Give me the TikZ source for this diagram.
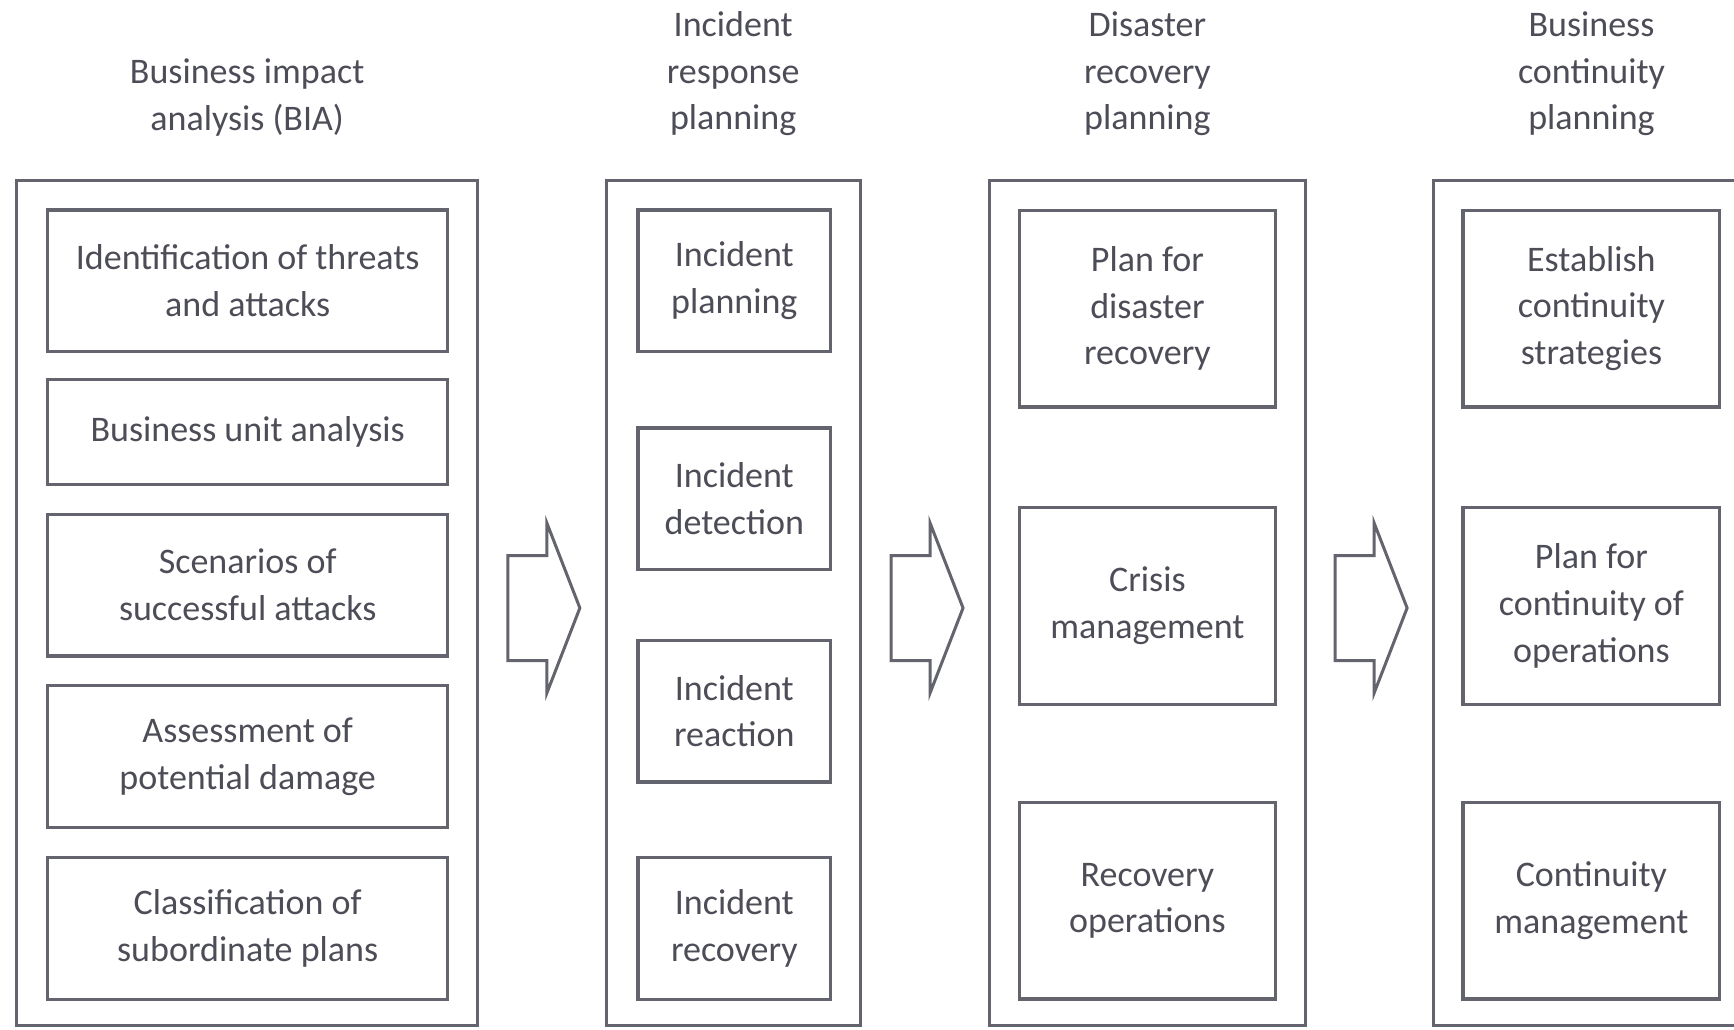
\documentclass[tikz,border=0pt]{standalone}
\usepackage{fontspec}
\setmainfont{Carlito}
\definecolor{frame}{HTML}{63646E}
\definecolor{ink}{HTML}{4C4D57}
\usetikzlibrary{positioning,calc}

\begin{document}
\begin{tikzpicture}[x=0.3pt,y=-0.3pt,every node/.style={font=\fontsize{10.8}{14}\selectfont,text=ink},
  phase/.style={draw=frame,line width=0.9pt,inner sep=0pt},
  task/.style={draw=frame,line width=1pt,inner sep=0pt,align=center},
  heading/.style={align=center,inner sep=0pt},
  blockarrow/.style={draw=frame,line width=0.9pt,line join=miter,fill=white}]
\useasboundingbox (0,0) rectangle (1734,1029);
% phase frames
\node[phase,minimum width=138.3pt,minimum height=253.7pt] (bia) at (247.2,603) {};
\node[phase,minimum width=76.3pt,minimum height=253.7pt] (irp) at (733.2,603) {};
\node[phase,minimum width=94.6pt,minimum height=253.7pt] (drp) at (1147.4,603) {};
\node[phase,minimum width=95pt,minimum height=253.7pt] (bcp) at (1591.5,603) {};
% headings
\node[heading,above=12.6pt of bia] (biaT) {Business impact\\analysis (BIA)};
\node[heading,above=12.6pt of irp] (irpT) {Incident\\response\\planning};
\node[heading,above=12.6pt of drp] (drpT) {Disaster\\recovery\\planning};
\node[heading,above=12.6pt of bcp] (bcpT) {Business\\continuity\\planning};
% BIA steps
\node[task,minimum width=120pt,minimum height=42.5pt] (bia1) at (247.7,280.9) {Identification of threats\\and attacks};
\node[task,minimum width=120pt,minimum height=31.5pt] (bia2) at (247.7,431.9) {Business unit analysis};
\node[task,minimum width=120pt,minimum height=42.5pt] (bia3) at (247.7,585) {Scenarios of\\successful attacks};
\node[task,minimum width=120pt,minimum height=42.5pt] (bia4) at (247.7,756.5) {Assessment of\\potential damage};
\node[task,minimum width=120pt,minimum height=42.5pt] (bia5) at (247.7,928.4) {Classification of\\subordinate plans};
% incident response steps
\node[task,minimum width=57.8pt,minimum height=42.5pt] (irp1) at (734.3,280.9) {Incident\\planning};
\node[task,minimum width=57.8pt,minimum height=42.5pt] (irp2) at (734.3,498.8) {Incident\\detection};
\node[task,minimum width=57.8pt,minimum height=42.5pt] (irp3) at (734.3,711.1) {Incident\\reaction};
\node[task,minimum width=57.8pt,minimum height=42.5pt] (irp4) at (734.3,928.4) {Incident\\recovery};
% disaster recovery steps
\node[task,minimum width=76.7pt,minimum height=59pt] (drp1) at (1147.4,308.5) {Plan for\\disaster\\recovery};
\node[task,minimum width=76.7pt,minimum height=59pt] (drp2) at (1147.4,606) {Crisis\\management};
\node[task,minimum width=76.7pt,minimum height=59pt] (drp3) at (1147.4,900.8) {Recovery\\operations};
% continuity steps
\node[task,minimum width=77pt,minimum height=59pt] (bcp1) at (1591.4,308.5) {Establish\\continuity\\strategies};
\node[task,minimum width=77pt,minimum height=59pt] (bcp2) at (1591.4,606) {Plan for\\continuity of\\operations};
\node[task,minimum width=77pt,minimum height=59pt] (bcp3) at (1591.4,900.8) {Continuity\\management};
% block arrows between phases
\foreach \a/\b in {bia/irp,irp/drp,drp/bcp}
  \draw[blockarrow] ($(\a.east)!.5!(\b.west)$) ++(-34,-47.5) -- ++(39,0) -- ++(0,-32.5)
    -- ++(33,85) -- ++(-33,85) -- ++(0,-32.5) -- ++(-39,0) -- cycle;
\end{tikzpicture}
\end{document}
